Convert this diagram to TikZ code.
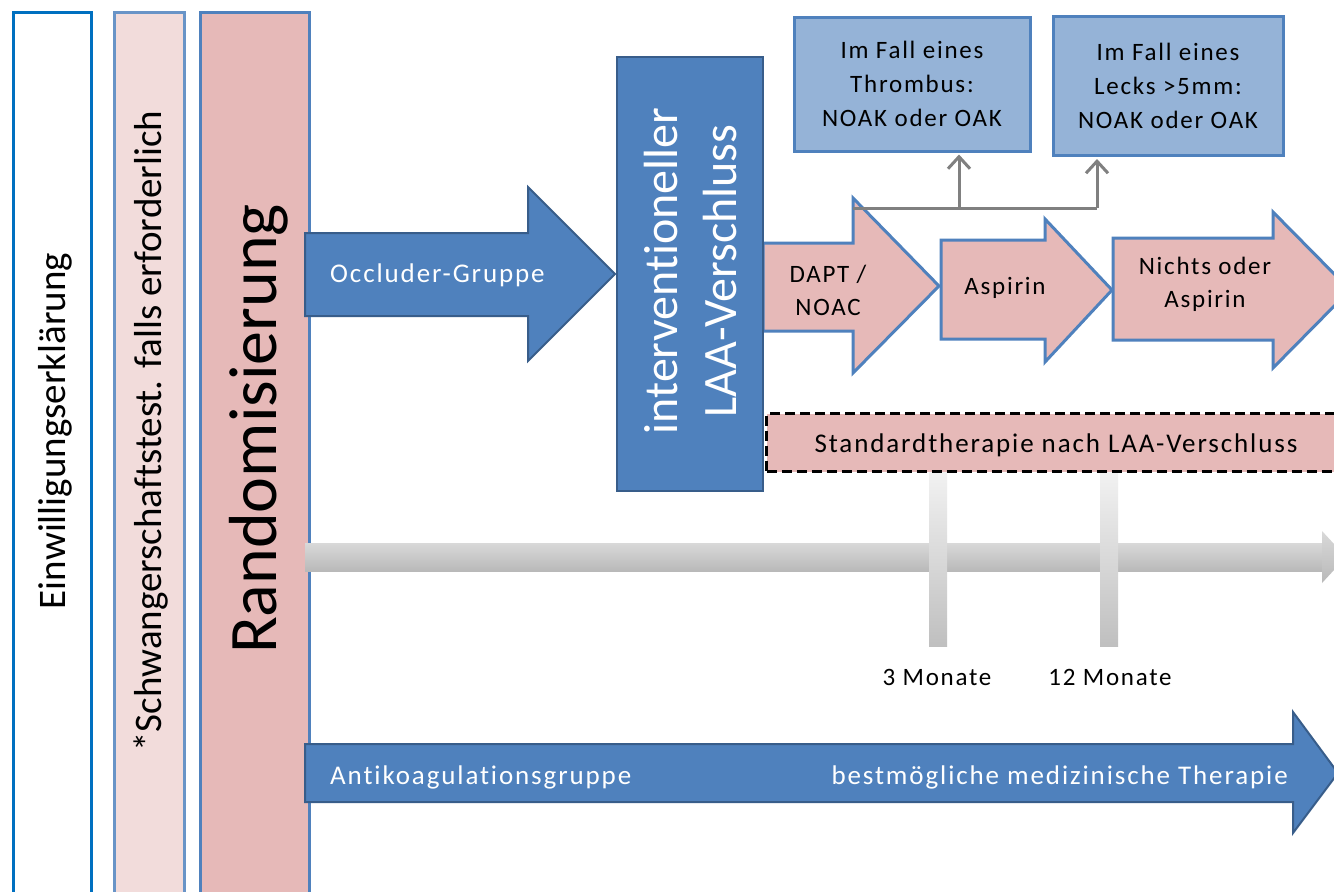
\documentclass[tikz,border=0pt]{standalone}
\usepackage{fontspec}
\setmainfont[Ligatures=NoCommon]{Carlito}
\newfontfamily\trk[LetterSpace=7,Ligatures=NoCommon]{Carlito}
\usetikzlibrary{arrows.meta}
\definecolor{bfill}{HTML}{4F81BD}
\definecolor{bdark}{HTML}{385D8A}
\definecolor{pfill}{HTML}{E6B9B8}
\definecolor{plight}{HTML}{F2DCDB}
\definecolor{lblue}{HTML}{95B3D7}
\definecolor{cblue}{HTML}{0070C0}
\definecolor{connc}{HTML}{808080}
\tikzset{
  colbox/.style={draw, line width=3pt, inner sep=0pt, anchor=north west},
  vtext/.style={rotate=90, inner sep=0pt, text=black},
  blockB/.style={fill=bfill, draw=bdark, line width=2pt, line join=miter},
  blockP/.style={fill=pfill, draw=bfill, line width=3pt, line join=miter},
  lbl/.style={font=\trk\fontsize{25}{33}\selectfont, inner sep=0pt, align=center, text=black},
  wlbl/.style={font=\trk\fontsize{27}{33}\selectfont, inner sep=0pt, text=white},
  infobox/.style={fill=lblue, draw=bfill, line width=3pt, inner sep=0pt, align=center, font=\trk\fontsize{25}{34}\selectfont, text=black},
  connline/.style={draw=connc, line width=3pt},
  connarrow/.style={-{Straight Barb[length=12pt,width=22pt]}, shorten >=2pt},
  tlshade/.style={top color=gray!30, bottom color=gray!55},
  tickshade/.style={top color=gray!10, bottom color=gray!50},
}
\begin{document}
\begin{tikzpicture}[x=1pt,y=-1pt]
\useasboundingbox (0,0) rectangle (1334,892);
\clip (0,0) rectangle (1334,892);
\fill[white] (0,0) rectangle (1334,892);

% columns
\node[colbox, draw=cblue, fill=white, minimum width=78pt, minimum height=900pt] (c1) at (12,11) {};
\node[colbox, draw=bfill!85!white, fill=plight, minimum width=70pt, minimum height=900pt] (c2) at (113,11) {};
\node[colbox, draw=bfill, fill=pfill, minimum width=109pt, minimum height=900pt] (c3) at (199,11) {};
\node[vtext, font=\fontsize{39}{39}\selectfont] (t1) at (55,431) {Einwilligungserklärung};
\node[vtext, font=\fontsize{39}{39}\selectfont] (t2) at (151,431) {*Schwangerschaftstest. falls erforderlich};
\node[vtext, font=\fontsize{68}{68}\selectfont] (t3) at (259,429) {Randomisierung};

% occluder arrow
\path[blockB] (305,233) -- (528,233) -- (528,187) -- (615,274) -- (528,361) -- (528,316) -- (305,316) -- cycle;
\node[wlbl, anchor=west] (occ) at (330,275) {Occluder-Gruppe};

% pink arrows
\path[blockP] (763,243) -- (853,243) -- (853,198) -- (939,286) -- (853,373) -- (853,331) -- (763,331) -- cycle;
\path[blockP] (941,240) -- (1045,240) -- (1045,219) -- (1112,290) -- (1045,362) -- (1045,339) -- (941,339) -- cycle;
\path[blockP] (1113,238) -- (1273,238) -- (1273,212) -- (1350,290) -- (1273,368) -- (1273,340) -- (1113,340) -- cycle;
\node[lbl] (dapt) at (828,290) {DAPT /\\NOAC};
\node[lbl] (asp) at (1005,288) {Aspirin};
\node[lbl] (nichts) at (1205,284) {Nichts oder\\Aspirin};

% LAA box
\node[fill=bfill, draw=bdark, line width=2pt, minimum width=146pt, minimum height=434pt, inner sep=0pt] (laa) at (690,274) {};
\node[vtext, text=white, font=\fontsize{48}{59}\selectfont, align=center] (laat) at (691,271) {interventioneller\\LAA-Verschluss};

% info boxes
\node[infobox, minimum width=236pt, minimum height=134pt] (box1) at (912,84) {Im Fall eines\\Thrombus:\\NOAK oder OAK};
\node[infobox, minimum width=230pt, minimum height=139pt] (box2) at (1168,86) {Im Fall eines\\Lecks >5mm:\\NOAK oder OAK};

% connectors
\coordinate (br) at (853,208);
\coordinate (j1) at (959,208);
\coordinate (j2) at (1097,208);
\draw[connline] (br) -- (j2);
\draw[connline, connarrow] (j1) -- (j1 |- box1.south);
\draw[connline, connarrow] (j2) -- (j2 |- box2.south);

% timeline
\shade[tlshade] (305,543) rectangle (1323,571);
\shade[tlshade] (1322,531) -- (1346,557) -- (1322,583) -- cycle;
\shade[tickshade] (929,470) rectangle (947,646);
\shade[tickshade] (1100,470) rectangle (1118,646);
\node[lbl] (m3) at (937,677) {3 Monate};
\node[lbl] (m12) at (1110,677) {12 Monate};

% standard therapy
\node[fill=pfill, draw=black, line width=3pt, dash pattern=on 10pt off 5pt, minimum width=600pt, minimum height=58pt, inner sep=0pt, anchor=north west] (std) at (765,412) {};
\node[lbl, font=\trk\fontsize{27}{33}\selectfont] (stdt) at (1056,445) {Standardtherapie nach LAA-Verschluss};

% anticoagulation arrow
\path[blockB] (305,744) -- (1293,744) -- (1293,712) -- (1338,773) -- (1293,833) -- (1293,802) -- (305,802) -- cycle;
\node[wlbl, anchor=west] (anti) at (330,777) {Antikoagulationsgruppe};
\node[wlbl, anchor=east] (best) at (1288,777) {bestmögliche medizinische Therapie};
\end{tikzpicture}
\end{document}
